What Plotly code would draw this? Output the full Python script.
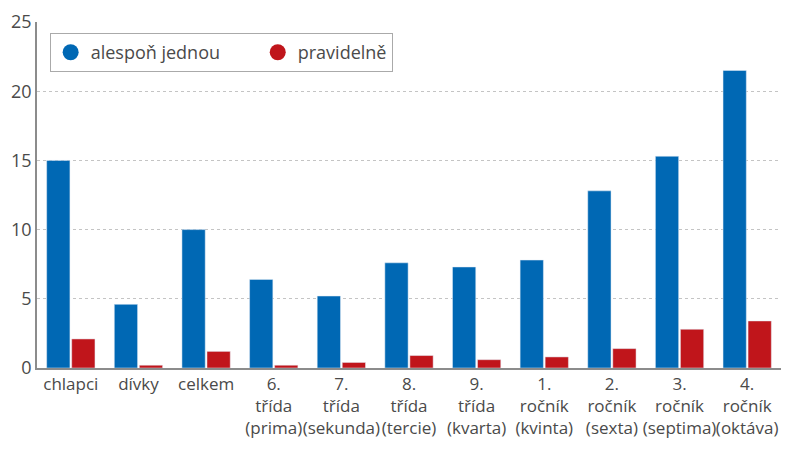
import plotly.graph_objects as go

# skupiny žáků (popisky osy x)
kategorie = ['chlapci', 'dívky', 'celkem',
             '6.<br>třída<br>(prima)', '7.<br>třída<br>(sekunda)',
             '8.<br>třída<br>(tercie)', '9.<br>třída<br>(kvarta)',
             '1.<br>ročník<br>(kvinta)', '2.<br>ročník<br>(sexta)',
             '3.<br>ročník<br>(septima)', '4.<br>ročník<br>(oktáva)']

alespon_jednou = [15.0, 4.6, 10.0, 6.4, 5.2, 7.6, 7.3, 7.8, 12.8, 15.3, 21.5]
pravidelne = [2.1, 0.2, 1.2, 0.2, 0.4, 0.9, 0.6, 0.8, 1.4, 2.8, 3.4]

y_ticks = [0, 5, 10, 15, 20, 25]

BLUE = '#0068b4'
RED = '#c0151b'
TXT = '#4a4a4a'
NBSP = '\u00a0'

fig = go.Figure()
fig.add_trace(go.Bar(x=kategorie, y=alespon_jednou, name='alespoň jednou',
                     marker_color=BLUE, showlegend=False))
fig.add_trace(go.Bar(x=kategorie, y=pravidelne, name='pravidelně',
                     marker_color=RED, showlegend=False))

# legenda s kulatými značkami
for nazev, barva in [('alespoň jednou' + NBSP * 7, BLUE), ('pravidelně', RED)]:
    fig.add_trace(go.Scatter(x=[None], y=[None], mode='markers', name=nazev,
                             marker=dict(color=barva, size=22, symbol='circle')))

# stránka má okraj 8 px, proto jsou okraje posunuté
fig.update_layout(
    width=800, height=453,
    margin=dict(l=29, r=27, t=14, b=93),
    paper_bgcolor='white', plot_bgcolor='white',
    font=dict(family='Open Sans', size=18, color=TXT),
    barmode='group', bargap=0.26, bargroupgap=0.07,
    legend=dict(orientation='h', x=0.017, y=0.968, xanchor='left', yanchor='top',
                bordercolor='#aaaaaa', borderwidth=1, bgcolor='white',
                font=dict(size=18, color=TXT), itemclick=False),
)
fig.update_xaxes(type='category', range=[-0.5, 10.5], showline=True,
                 linecolor='#8c8c8c', linewidth=1.5, ticks='', showgrid=False,
                 tickfont=dict(size=17, color=TXT), tickangle=0, automargin=False,
                 ticklabeloverflow='allow')
fig.update_yaxes(range=[0, 25], tickvals=y_ticks, showline=True,
                 linecolor='#8c8c8c', linewidth=1.5, ticks='',
                 showgrid=True, gridcolor='#c4c4c4', griddash='dot', gridwidth=1,
                 zeroline=False, tickfont=dict(size=18, color=TXT), automargin=False,
                 ticklabeloverflow='allow')

fig.write_html("out.html")
